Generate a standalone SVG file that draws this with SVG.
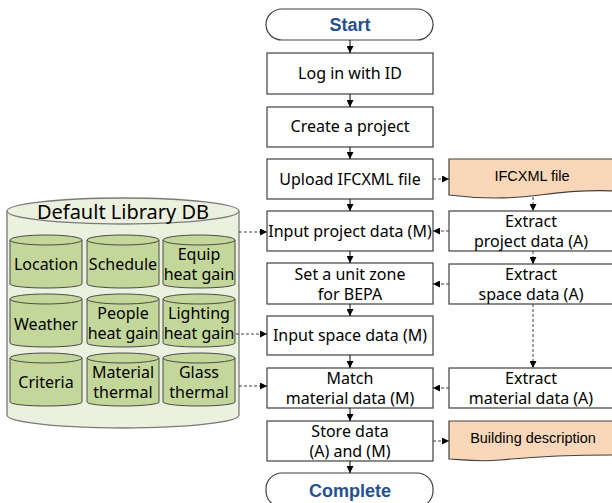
<svg xmlns="http://www.w3.org/2000/svg" width="612" height="503" viewBox="0 0 612 503">
<defs>
<style>
.box{fill:#fff;stroke:#404040;stroke-width:1.2}
.doc{fill:#fad7b8;stroke:#404040;stroke-width:1.2}
.t{font-family:"Noto Sans","DejaVu Sans",sans-serif;font-size:16px;fill:#000;text-anchor:middle}
.a{font-family:"Liberation Sans",Arial,sans-serif;font-size:14.5px;fill:#000;text-anchor:middle}
.term{font-family:"Liberation Sans",Arial,sans-serif;font-size:18px;font-weight:bold;fill:#25508f;text-anchor:middle}
.c{font-family:"Noto Sans","DejaVu Sans",sans-serif;font-size:16px;fill:#000;text-anchor:middle}
.db{fill:#ebf1de;stroke:#7a7a7a;stroke-width:1.3}
.cyl{fill:#c4d79b;stroke:#4a4a4a;stroke-width:1}
.sol{stroke:#000;stroke-width:1;fill:none;marker-end:url(#ah)}
.dsh{stroke:#404040;stroke-width:1;fill:none;stroke-dasharray:3,2;marker-end:url(#ah)}
</style>
<marker id="ah" viewBox="0 0 10 10" refX="10" refY="5" markerWidth="7" markerHeight="7" markerUnits="userSpaceOnUse" orient="auto">
<path d="M0,0 L10,5 L0,10 Z" fill="#000"/>
</marker>
<g id="cylshape">
<path class="cyl" d="M0,5 A36,5 0 0 1 72,5 V49 A36,4 0 0 1 0,49 Z"/>
<path class="cyl" d="M0,5 A36,5 0 0 0 72,5" fill="none"/>
</g>
</defs>

<!-- Default Library DB -->
<g id="db">
<path class="db" d="M7,211 A116,13 0 0 1 239,211 V415 A116,13 0 0 1 7,415 Z"/>
<path class="db" d="M7,211 A116,13 0 0 0 239,211" fill="none"/>
<text class="c" x="123" y="219" style="font-size:20px">Default Library DB</text>
</g>
<g id="location"><use href="#cylshape" x="10" y="235"/><text class="c" x="46" y="270">Location</text></g>
<g id="schedule"><use href="#cylshape" x="87" y="235"/><text class="c" x="123" y="270">Schedule</text></g>
<g id="equip"><use href="#cylshape" x="163" y="235"/><text class="c" x="199" y="260">Equip</text><text class="c" x="199" y="280">heat gain</text></g>
<g id="weather"><use href="#cylshape" x="10" y="294"/><text class="c" x="46" y="330">Weather</text></g>
<g id="people"><use href="#cylshape" x="87" y="294"/><text class="c" x="123" y="319">People</text><text class="c" x="123" y="339">heat gain</text></g>
<g id="lighting"><use href="#cylshape" x="163" y="294"/><text class="c" x="199" y="319">Lighting</text><text class="c" x="199" y="339">heat gain</text></g>
<g id="criteria"><use href="#cylshape" x="10" y="353"/><text class="c" x="46" y="388">Criteria</text></g>
<g id="material"><use href="#cylshape" x="87" y="353"/><text class="c" x="123" y="378">Material</text><text class="c" x="123" y="398">thermal</text></g>
<g id="glass"><use href="#cylshape" x="163" y="353"/><text class="c" x="199" y="378">Glass</text><text class="c" x="199" y="398">thermal</text></g>

<!-- Main flow -->
<g id="start"><rect class="box" x="266" y="9" width="167" height="31" rx="16" ry="16"/><text class="term" x="350" y="31">Start</text></g>
<g id="login"><rect class="box" x="267" y="53" width="166" height="41"/><text class="t" x="350" y="79">Log in with ID</text></g>
<g id="create"><rect class="box" x="267" y="107" width="166" height="40"/><text class="t" x="350" y="132">Create a project</text></g>
<g id="upload"><rect class="box" x="267" y="159" width="166" height="40"/><text class="t" x="350" y="185">Upload IFCXML file</text></g>
<g id="inproj"><rect class="box" x="267" y="211" width="166" height="40"/><text class="t" x="350" y="237">Input project data (M)</text></g>
<g id="zone"><rect class="box" x="267" y="263" width="166" height="41"/><text class="t" x="350" y="280">Set a unit zone</text><text class="t" x="350" y="300">for BEPA</text></g>
<g id="inspace"><rect class="box" x="267" y="316" width="166" height="39"/><text class="t" x="350" y="341">Input space data (M)</text></g>
<g id="match"><rect class="box" x="267" y="368" width="166" height="40"/><text class="t" x="350" y="384">Match</text><text class="t" x="350" y="404">material data (M)</text></g>
<g id="store"><rect class="box" x="267" y="421" width="166" height="40"/><text class="t" x="350" y="437">Store data</text><text class="t" x="350" y="457">(A) and (M)</text></g>
<g id="complete"><rect class="box" x="266" y="473" width="167" height="34" rx="16" ry="16"/><text class="term" x="350" y="497">Complete</text></g>

<!-- Right column -->
<g id="ifcxml"><path class="doc" d="M449,159 H614 V191 C590,190 570,191 540,195 C510,199 480,199 449,195 Z"/><text class="a" x="532" y="181">IFCXML  file</text></g>
<g id="exproj"><rect class="box" x="449" y="211" width="166" height="40"/><text class="t" x="531" y="227">Extract</text><text class="t" x="531" y="247">project data (A)</text></g>
<g id="exspace"><rect class="box" x="449" y="264" width="166" height="40"/><text class="t" x="531" y="280">Extract</text><text class="t" x="531" y="300">space data (A)</text></g>
<g id="exmat"><rect class="box" x="449" y="368" width="166" height="40"/><text class="t" x="531" y="384">Extract</text><text class="t" x="531" y="404">material data (A)</text></g>
<g id="bdesc"><path class="doc" d="M449,421 H614 V455 C580,455 540,456 500,460 C480,462 465,460 449,459 Z"/><text class="a" x="533" y="443">Building  description</text></g>

<!-- Connectors -->
<g id="connectors">
<line class="sol" x1="350" y1="40" x2="350" y2="53"/>
<line class="sol" x1="350" y1="94" x2="350" y2="107"/>
<line class="sol" x1="350" y1="147" x2="350" y2="159"/>
<line class="sol" x1="350" y1="199" x2="350" y2="211"/>
<line class="sol" x1="350" y1="251" x2="350" y2="263"/>
<line class="sol" x1="350" y1="304" x2="350" y2="316"/>
<line class="sol" x1="350" y1="355" x2="350" y2="368"/>
<line class="sol" x1="350" y1="408" x2="350" y2="421"/>
<line class="sol" x1="350" y1="461" x2="350" y2="473"/>
<line class="dsh" x1="433" y1="179" x2="449" y2="179"/>
<line class="dsh" x1="533" y1="197" x2="533" y2="211"/>
<line class="dsh" x1="449" y1="231" x2="433" y2="231"/>
<line class="dsh" x1="533" y1="251" x2="533" y2="264"/>
<line class="dsh" x1="449" y1="284" x2="433" y2="284"/>
<line class="dsh" x1="533" y1="304" x2="533" y2="368"/>
<line class="dsh" x1="449" y1="388" x2="433" y2="388"/>
<line class="dsh" x1="433" y1="441" x2="449" y2="441"/>
<line class="dsh" x1="239" y1="232" x2="267" y2="232"/>
<line class="dsh" x1="236" y1="334" x2="267" y2="334"/>
<line class="dsh" x1="239" y1="386" x2="267" y2="386"/>
</g>
</svg>
